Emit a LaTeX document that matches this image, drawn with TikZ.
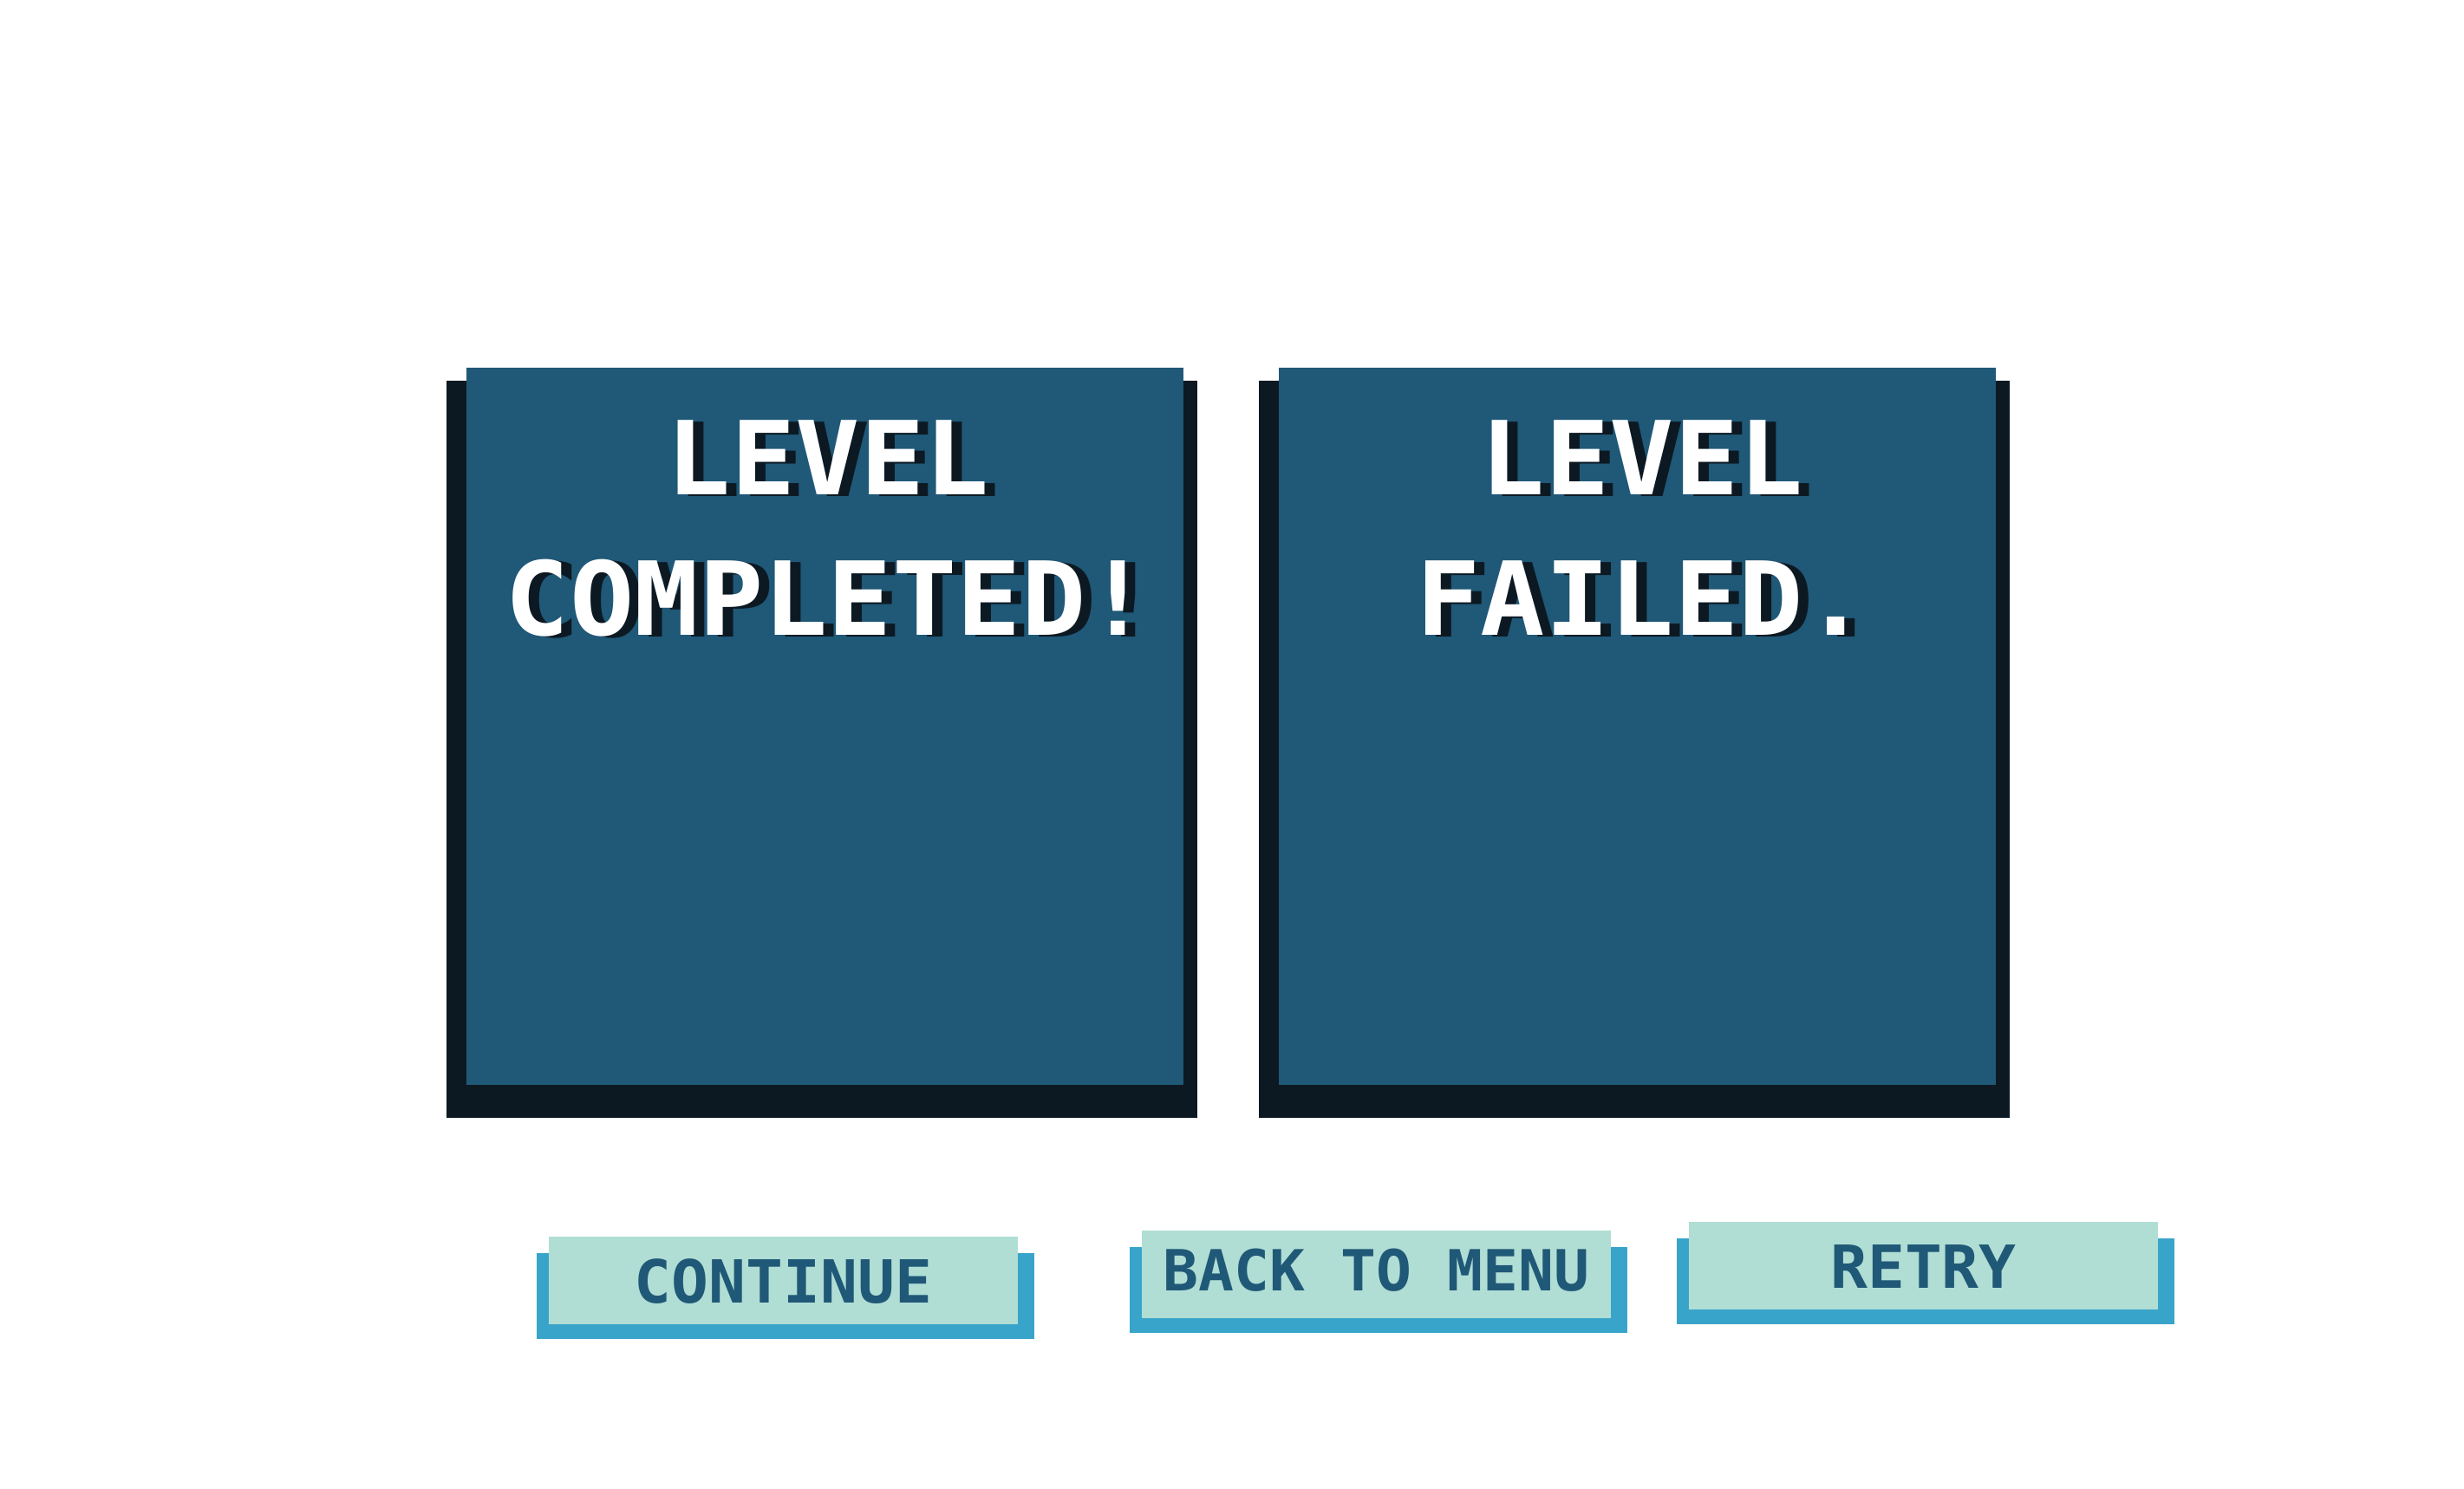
\documentclass[tikz,border=0pt]{standalone}
\usepackage{fontspec}
\usepackage{tikz}
\usetikzlibrary{calc}
\newfontfamily\gamefont{DejaVu Sans Mono}[FakeStretch=1.05]
\newfontfamily\btnfont{DejaVu Sans Mono}[FakeStretch=1.04]
\definecolor{panelblue}{RGB}{32,88,119}
\definecolor{paneldark}{RGB}{12,25,34}
\definecolor{btnmint}{RGB}{176,222,212}
\definecolor{btnsky}{RGB}{57,164,202}
\tikzset{
  titletext/.style={anchor=base, inner sep=0pt, text=white, font=\gamefont\bfseries\fontsize{33.5}{40}\selectfont},
  titleshade/.style={titletext, text=paneldark},
  btntext/.style={anchor=base, inner sep=0pt, text=panelblue, font=\btnfont\bfseries\fontsize{19.5}{23}\selectfont}
}
\newcommand{\panel}[4]{ \fill[paneldark] ( #1-0.23 , #2-0.38 ) rectangle ( #3+0.16 , #4-0.15 ); \fill[panelblue] ( #1 , #2 ) rectangle ( #3 , #4 );}
\newcommand{\titleline}[4]{ \node[titleshade] (#1s) at ( #2+0.12 , #3-0.015 ) {#4}; \node[titletext] (#1) at ( #2 , #3 ) {#4};}
\newcommand{\button}[5]{ \fill[btnsky] ( #1-0.14 , #2-0.17 ) rectangle ( #1+5.60 , #2+0.82 ); \fill[btnmint] ( #1 , #2 ) rectangle ( #1+5.41 , #2+1.01 ); \node[btntext] (#3) at ( #1+2.705 , #2+#4 ) {#5};}

\begin{document}
\begin{tikzpicture}
            \useasboundingbox (0,0) rectangle (28.42,17.17);
            % panels
            \panel{5.38}{4.66}{13.65}{12.93}
            \panel{14.75}{4.66}{23.02}{12.93}

            % panel 1
            \titleline{winA}{9.55}{11.46}{LEVEL}
            \titleline{winB}{9.55}{9.84}{COMPLETED!}
            % panel 2
            \titleline{loseA}{18.94}{11.46}{LEVEL}
            \titleline{loseB}{18.94}{9.84}{FAILED.}

            % buttons
            \button{6.33}{1.90}{cont}{0.24}{CONTINUE}
            \button{13.17}{1.97}{menu}{0.31}{\fontsize{18.6}{22}\selectfont BACK TO MENU}
            \button{19.48}{2.07}{retry}{0.24}{RETRY}
        \end{tikzpicture}
\end{document}
